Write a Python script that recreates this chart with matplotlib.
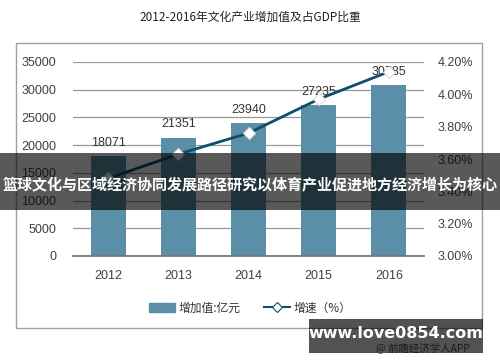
import matplotlib
matplotlib.use("Agg")
import matplotlib.pyplot as plt
from matplotlib.patches import Rectangle
from matplotlib.lines import Line2D
from matplotlib.patches import Patch

plt.rcParams['font.family'] = ['Liberation Sans', 'Noto Sans CJK SC', 'DejaVu Sans']

years = ["2012", "2013", "2014", "2015", "2016"]
added_value = [18071, 21351, 23940, 27235, 30785]
growth_pct = [3.48, 3.63, 3.76, 3.97, 4.14]
left_ticks = [0, 5000, 10000, 15000, 20000, 25000, 30000, 35000]
right_ticks = [3.0, 3.2, 3.4, 3.6, 3.8, 4.0, 4.2]

title = "2012-2016年文化产业增加值及占GDP比重"
bar_label = "增加值:亿元"
line_label = "增速（%）"
banner = "篮球文化与区域经济协同发展路径研究以体育产业促进地方经济增长为核心"
site = "www.love0854.com"
source = "@ 前瞻经济学人APP"

W, H = 500, 362
fig = plt.figure(figsize=(W/100, H/100), dpi=100)

def fx(x): return x / W
def fy(y): return 1 - y / H

cjk = ['Noto Sans CJK SC', 'DejaVu Sans']

# outer border
fig.patches.append(Rectangle((fx(16), fy(328)), fx(482) - fx(16), fy(43) - fy(328),
                             transform=fig.transFigure, fill=False, edgecolor='#a0a0a0', lw=1))

fig.text(0.5, fy(17), title, ha='center', va='center', fontsize=8.5, color='#222222', family=cjk)

ax = fig.add_axes([fx(73), fy(256), fx(424) - fx(73), fy(62) - fy(256)])
x = list(range(len(years)))
ax.bar(x, added_value, width=0.5, color='#5b8fa8', zorder=2)
for xi, v in zip(x, added_value):
    ax.text(xi, v + 1300, str(v), ha='center', va='bottom', fontsize=9, color='#333333', zorder=5)
ax.set_xlim(-0.5, 4.5)
ax.set_ylim(0, 35000)
ax.set_yticks(left_ticks)
ax.set_yticklabels([str(t) for t in left_ticks])
ax.set_xticks(x)
ax.set_xticklabels(years)
ax.yaxis.grid(True, color='#9a9a9a', lw=0.9, zorder=0)
ax.set_axisbelow(True)
for s in ['top', 'right', 'left']:
    ax.spines[s].set_visible(False)
ax.spines['bottom'].set_color('#777777')
ax.spines['bottom'].set_linewidth(1.3)
ax.tick_params(axis='both', length=0, labelsize=9, labelcolor='#404040')
ax.tick_params(axis='x', pad=10)
ax.tick_params(axis='y', pad=12)

ax2 = ax.twinx()
ax2.plot(x, growth_pct, color='#0b4f6c', lw=2, marker='D', markersize=6,
         markerfacecolor='white', markeredgecolor='#dddddd', markeredgewidth=0.8, zorder=4)
ax2.set_ylim(3.0, 4.2)
ax2.set_yticks(right_ticks)
ax2.set_yticklabels([f"{t:.2f}%" for t in right_ticks])
for s in ['top', 'right', 'left', 'bottom']:
    ax2.spines[s].set_visible(False)
ax2.tick_params(axis='y', length=0, labelsize=9, labelcolor='#404040', pad=10)

handles = [Patch(color='#5b8fa8'),
           Line2D([0], [0], color='#0b4f6c', lw=1.5, marker='D', markersize=5,
                  markerfacecolor='white', markeredgecolor='#0b4f6c', markeredgewidth=0.8)]
fig.legend(handles, [bar_label, line_label], loc='center', bbox_to_anchor=(fx(250), fy(308)),
           ncol=2, frameon=False, handlelength=2.2, columnspacing=2.0,
           handletextpad=0.3, labelcolor='#333333', prop={'family': cjk, 'size': 8.5})

# banner overlay
fig.patches.append(Rectangle((0, fy(210)), 1, fy(153) - fy(210), transform=fig.transFigure,
                             facecolor='black', alpha=0.65, edgecolor='none', zorder=10))
fig.text(0.5, fy(184), banner, ha='center', va='center', fontsize=10.85, fontweight='bold',
         color='white', zorder=11, family=cjk)

# watermark box
fig.text(fx(470), fy(348), source, ha='right', va='center', fontsize=7.5, color='#555555',
         zorder=9, family=cjk)
fig.patches.append(Rectangle((fx(309), fy(353)), fx(483) - fx(309), fy(319) - fy(353),
                             transform=fig.transFigure, facecolor='black', alpha=0.68,
                             edgecolor='none', zorder=10))
fig.text(fx(396), fy(334), site, ha='center', va='center', fontsize=11.5, fontweight='bold',
         color='white', zorder=11, family='DejaVu Sans')

fig.savefig("out.png", dpi=100)
